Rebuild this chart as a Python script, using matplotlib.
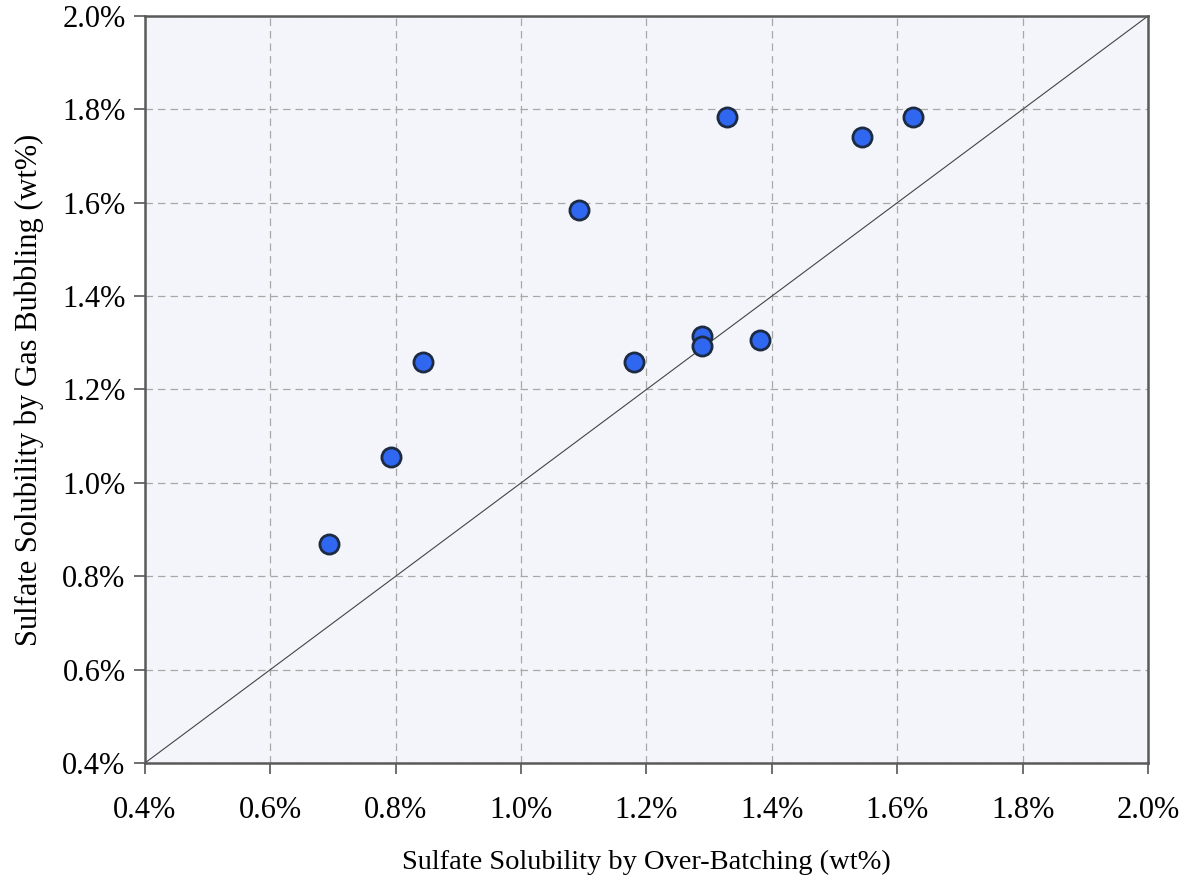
import numpy as np
import matplotlib.pyplot as plt
from matplotlib.ticker import PercentFormatter

# Solubilidad de sulfato (wt%) por los dos métodos
over_batching = [0.694, 0.793, 0.844, 1.092, 1.180, 1.288, 1.288, 1.328, 1.381, 1.544, 1.625]
gas_bubbling = [0.868, 1.055, 1.258, 1.585, 1.258, 1.315, 1.294, 1.784, 1.307, 1.741, 1.784]

ticks = [0.4, 0.6, 0.8, 1.0, 1.2, 1.4, 1.6, 1.8, 2.0]

plt.rcParams['font.family'] = ['Liberation Serif', 'DejaVu Serif']

fig = plt.figure(figsize=(11.95, 8.88), dpi=100)
ax = fig.add_axes([0.1213, 0.1408, 0.8394, 0.8412])
ax.set_facecolor('#f3f5fa')

# Línea 1:1
ax.plot([0.4, 2.0], [0.4, 2.0], color='#444444', lw=0.8, zorder=2)

ax.scatter(over_batching, gas_bubbling, s=190, c='#2f67f0',
           edgecolors='#1c2a44', linewidths=2.0, zorder=3)

ax.set_xlim(0.4, 2.0)
ax.set_ylim(0.4, 2.0)
ax.set_xticks(ticks)
ax.set_yticks(ticks)
ax.xaxis.set_major_formatter(PercentFormatter(decimals=1))
ax.yaxis.set_major_formatter(PercentFormatter(decimals=1))
ax.tick_params(labelsize=22, length=8, width=1.2, color='#555555')
ax.tick_params(axis='x', pad=16)
ax.tick_params(axis='y', pad=6)

ax.grid(True, linestyle=(0, (6, 4)), color='#a8a8a8', lw=0.9)
ax.set_axisbelow(True)
for s in ax.spines.values():
    s.set_color('#5a5a5a')
    s.set_linewidth(1.8)

ax.set_xlabel('Sulfate Solubility by Over-Batching (wt%)', fontsize=20.5)
ax.set_ylabel('Sulfate Solubility by Gas Bubbling (wt%)', fontsize=22)
ax.xaxis.set_label_coords(0.5, -0.116)
ax.yaxis.set_label_coords(-0.101, 0.5)

fig.savefig('out.png', dpi=100)
